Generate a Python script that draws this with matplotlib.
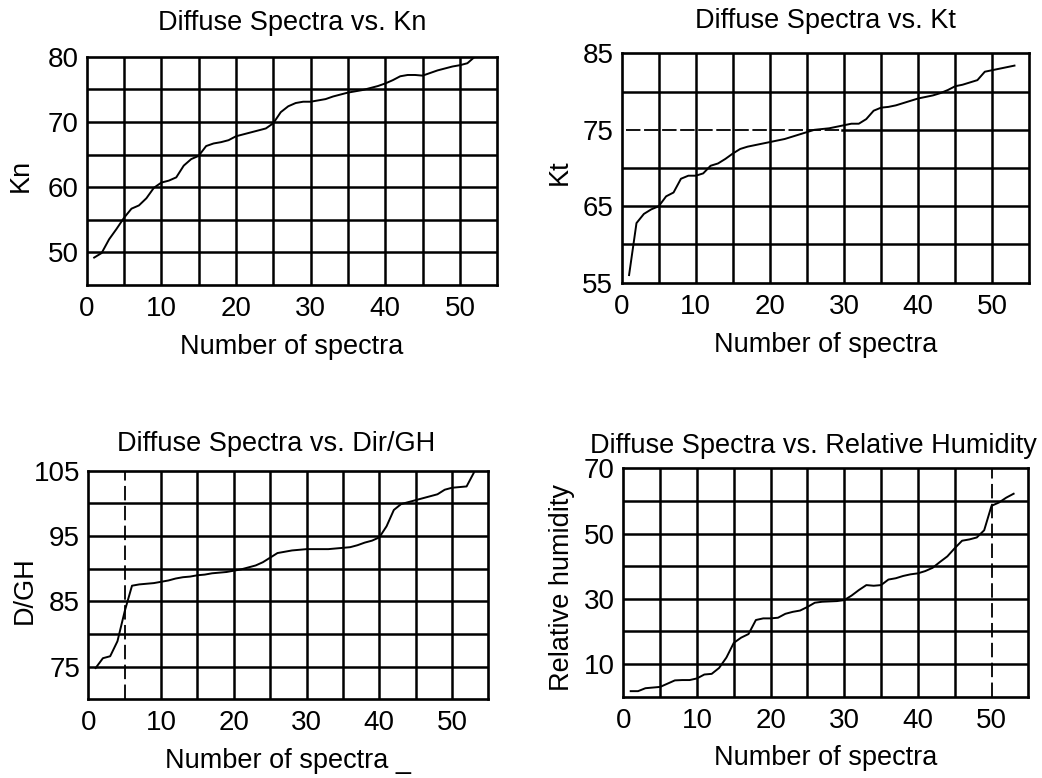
import matplotlib
matplotlib.use("Agg")
import matplotlib.pyplot as plt

plt.rcParams["font.family"] = ["Liberation Sans", "DejaVu Sans"]

spectra = list(range(1, 54))

kn = [49.2, 49.9, 52.0, 53.6, 55.3, 56.7, 57.2, 58.3, 59.9, 60.7,
      61.0, 61.5, 63.3, 64.3, 64.8, 66.3, 66.7, 66.9, 67.2, 67.8,
      68.1, 68.4, 68.7, 69.0, 69.8, 71.5, 72.4, 72.9, 73.1, 73.1,
      73.3, 73.5, 73.9, 74.2, 74.5, 74.7, 74.9, 75.2, 75.5, 75.9,
      76.4, 77.0, 77.2, 77.2, 77.1, 77.5, 77.9, 78.2, 78.5, 78.7,
      79.0, 80.0, 80.2]

kt = [56.0, 62.8, 64.0, 64.6, 65.0, 66.3, 66.8, 68.6, 69.0, 69.0,
      69.3, 70.3, 70.6, 71.2, 71.9, 72.5, 72.8, 73.0, 73.2, 73.4,
      73.6, 73.8, 74.1, 74.4, 74.7, 75.0, 75.1, 75.2, 75.4, 75.6,
      75.8, 75.8, 76.4, 77.5, 77.9, 78.0, 78.2, 78.5, 78.8, 79.1,
      79.3, 79.5, 79.8, 80.2, 80.7, 80.9, 81.2, 81.5, 82.6, 82.8,
      83.0, 83.2, 83.4]

dgh = [74.8, 76.3, 76.6, 78.9, 83.5, 87.4, 87.6, 87.7, 87.8, 88.0,
       88.2, 88.5, 88.7, 88.8, 89.0, 89.1, 89.3, 89.4, 89.5, 89.7,
       89.9, 90.2, 90.5, 91.0, 91.7, 92.4, 92.6, 92.8, 92.9, 93.0,
       93.0, 93.0, 93.0, 93.1, 93.2, 93.3, 93.6, 94.0, 94.3, 94.8,
       96.5, 99.0, 99.9, 100.2, 100.5, 100.8, 101.1, 101.4, 102.1, 102.4,
       102.5, 102.6, 104.7]

rh = [1.7, 1.7, 2.6, 2.8, 3.0, 4.0, 5.0, 5.1, 5.1, 5.6,
      6.8, 7.0, 8.8, 12.0, 16.5, 18.1, 19.2, 23.5, 24.0, 24.0,
      24.2, 25.4, 26.0, 26.4, 27.5, 28.8, 29.1, 29.2, 29.3, 29.6,
      31.0, 32.7, 34.2, 34.0, 34.2, 35.9, 36.3, 37.0, 37.5, 37.8,
      38.5, 39.5, 41.3, 43.0, 45.5, 47.8, 48.2, 48.8, 51.0, 58.5,
      59.5, 61.0, 62.2]

x_ticks = [0, 10, 20, 30, 40, 50]
x_grid = [5, 10, 15, 20, 25, 30, 35, 40, 45, 50]

panels = [
    # title, ylabel, values, ylim, yticks, ygrid, rect, title x, title pad
    ("Diffuse Spectra vs. Kn", "Kn", kn, (45, 80), [50, 60, 70, 80],
     [50, 55, 60, 65, 70, 75], [0.0832, 0.6337, 0.394, 0.2934], 0.5, 19),
    ("Diffuse Spectra vs. Kt", "Kt", kt, (55, 85), [55, 65, 75, 85],
     [60, 65, 70, 75, 80], [0.5966, 0.6366, 0.3912, 0.2948], 0.5, 18),
    ("Diffuse Spectra vs. Dir/GH", "D/GH", dgh, (70, 105), [75, 85, 95, 105],
     [75, 80, 85, 90, 95, 100], [0.0848, 0.1011, 0.3839, 0.2938], 0.47, 14),
    ("Diffuse Spectra vs. Relative Humidity", "Relative humidity", rh, (0, 70),
     [10, 30, 50, 70], [10, 20, 30, 40, 50, 60],
     [0.5982, 0.1045, 0.3887, 0.2936], 0.47, 11),
]
xlabels = ["Number of spectra", "Number of spectra",
           "Number of spectra _", "Number of spectra"]

fig = plt.figure(figsize=(10.42, 7.78), dpi=100)

for i, (title, ylabel, values, ylim, yticks, ygrid, rect, tx, tpad) in enumerate(panels):
    ax = fig.add_axes(rect)
    ax.set_xlim(0, 55)
    ax.set_ylim(*ylim)

    # grid drawn by hand so single lines can be dashed like the scan
    for gx in x_grid:
        dashed = (i == 2 and gx == 5) or (i == 3 and gx == 50)
        ax.axvline(gx, color="black", lw=1.8 if not dashed else 1.3,
                   ls=(0, (8, 3)) if dashed else "-", zorder=1)
    for gy in ygrid:
        if i == 1 and gy == 75:
            ax.axhline(gy, xmin=0.01, xmax=0.54, color="black", lw=1.3,
                       ls=(0, (8, 2)), zorder=1)
            ax.axhline(gy, xmin=0.54, xmax=1, color="black", lw=1.8, zorder=1)
        else:
            ax.axhline(gy, color="black", lw=1.8, zorder=1)

    ax.plot(spectra, values, color="black", lw=1.4, zorder=3)

    for s in ax.spines.values():
        s.set_linewidth(1.9)
    ax.set_xticks(x_ticks)
    ax.set_yticks(yticks)
    ax.tick_params(length=0, labelsize=20)
    ax.tick_params(axis="x", pad=8)
    ax.tick_params(axis="y", pad=6)

    ax.set_title(title, fontsize=19.5, x=tx, pad=tpad)
    ax.set_xlabel(xlabels[i], fontsize=19.5)
    ax.xaxis.set_label_coords(0.5, -0.27)
    ax.xaxis.label.set_va("center")
    ax.set_ylabel(ylabel, fontsize=19.5)
    ax.yaxis.set_label_coords(-0.16 if i % 2 == 0 else -0.152, 0.48)
    ax.yaxis.label.set_va("center")

fig.savefig("out.png", dpi=100)
